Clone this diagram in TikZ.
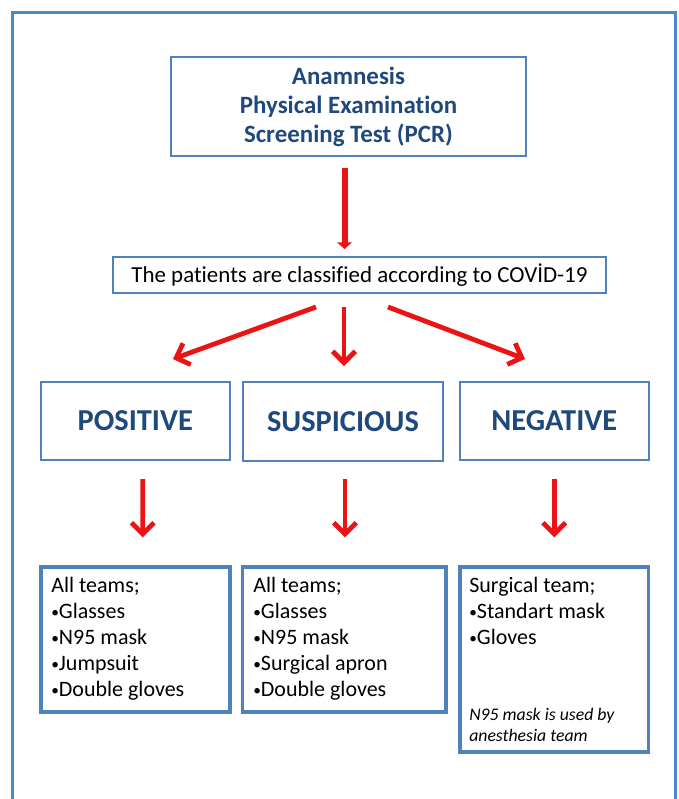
\documentclass[tikz,border=0pt]{standalone}
\usepackage{graphicx}
\usepackage{fontspec}
\setmainfont{Carlito}[Ligatures=NoCommon]
\usetikzlibrary{arrows.meta}
\definecolor{frameblue}{RGB}{74,136,200}
\definecolor{boxblue}{RGB}{79,129,189}
\definecolor{txtblue}{RGB}{31,73,125}
\definecolor{arrred}{RGB}{235,20,20}
\newcommand\mybul{\raisebox{0.12ex}{\scalebox{0.7}{•}}}
\begin{document}
\begin{tikzpicture}[x=0.75pt,y=-0.75pt,
  box/.style={draw=boxblue,line width=1.5pt,inner sep=0pt},
  itembox/.style={draw=boxblue,line width=2.4pt,inner sep=0pt},
  cattext/.style={font=\fontsize{22.8}{26}\selectfont\bfseries,text=txtblue},
  itemtext/.style={font=\fontsize{16.5}{19.5}\selectfont,align=left,anchor=north west,inner sep=0pt},
  notetext/.style={font=\fontsize{13.3}{15.75}\selectfont\itshape,align=left,anchor=north west,inner sep=0pt},
  bigarrow/.style={draw=arrred,line width=4.5pt,-{Triangle[length=5pt,width=11pt]}},
  arr/.style={draw=arrred,line width=3.6pt,-{Straight Barb[length=8.5pt,width=17pt]}}]
\useasboundingbox (0,0) rectangle (678,799);
\begin{scope}
\clip (0,0) rectangle (678,799);
\draw[frameblue,line width=2.4pt] (12.5,12.5) rectangle (675.5,840);
\end{scope}

\node[box,minimum width=266.25pt,minimum height=74.25pt,align=center,
  font=\fontsize{18.7}{21.75}\selectfont\bfseries,text=txtblue] (top) at (348.5,106.5)
  {Anamnesis\\Physical Examination\\Screening Test (PCR)};
\node[box,minimum width=369.75pt,minimum height=27pt,font=\fontsize{17.2}{20}\selectfont] (cls) at (359.5,275)
  {The patients are classified according to COVİD-19};

\node[box,cattext,minimum width=141.4pt,minimum height=58.5pt] (pos) at (135.25,421) {POSITIVE};
\node[box,cattext,minimum width=150pt,minimum height=59.6pt] (sus) at (343,421.75) {SUSPICIOUS};
\node[box,cattext,minimum width=141.4pt,minimum height=58.5pt] (neg) at (554.25,421) {NEGATIVE};

\node[itembox,minimum width=141.75pt,minimum height=108.75pt] (ipos) at (135.5,639.5) {};
\node[itembox,minimum width=152.6pt,minimum height=108.75pt] (isus) at (344.25,639.5) {};
\node[itembox,minimum width=141.4pt,minimum height=138.75pt] (ineg) at (554.25,659.5) {};

\node[itemtext] (tpos) at (51,577) {All teams;\\\mybul Glasses\\\mybul N95 mask\\\mybul Jumpsuit\\\mybul Double gloves};
\node[itemtext] (tsus) at (253,577) {All teams;\\\mybul Glasses\\\mybul N95 mask\\\mybul Surgical apron\\\mybul Double gloves};
\node[itemtext] (tneg) at (469,577) {Surgical team;\\\mybul Standart mask\\\mybul Gloves};
\node[notetext] (nneg) at (469,707.5) {N95 mask is used by\\anesthesia team};

\draw[bigarrow,shorten <=8.25pt,shorten >=5.25pt] ([xshift=-3pt]top.south) -- ([xshift=-3pt]top.south |- cls.north);
\draw[arr] ([shift={(-43.5,13)}]cls.south) -- ([shift={(37.75,-22)}]pos.north);
\draw[arr] ([shift={(-15.5,13)}]cls.south) -- ([shift={(1,-15)}]sus.north);
\draw[arr] ([shift={(28.5,13)}]cls.south) -- ([shift={(-29.25,-22)}]neg.north);

\draw[arr] ([shift={(7.5,18)}]pos.south) -- ([shift={(7.2,-28)}]ipos.north);
\draw[arr] ([shift={(2,16.5)}]sus.south) -- ([shift={(0.75,-28)}]isus.north);
\draw[arr] ([shift={(0,18)}]neg.south) -- ([shift={(0,-28)}]ineg.north);
\end{tikzpicture}
\end{document}
